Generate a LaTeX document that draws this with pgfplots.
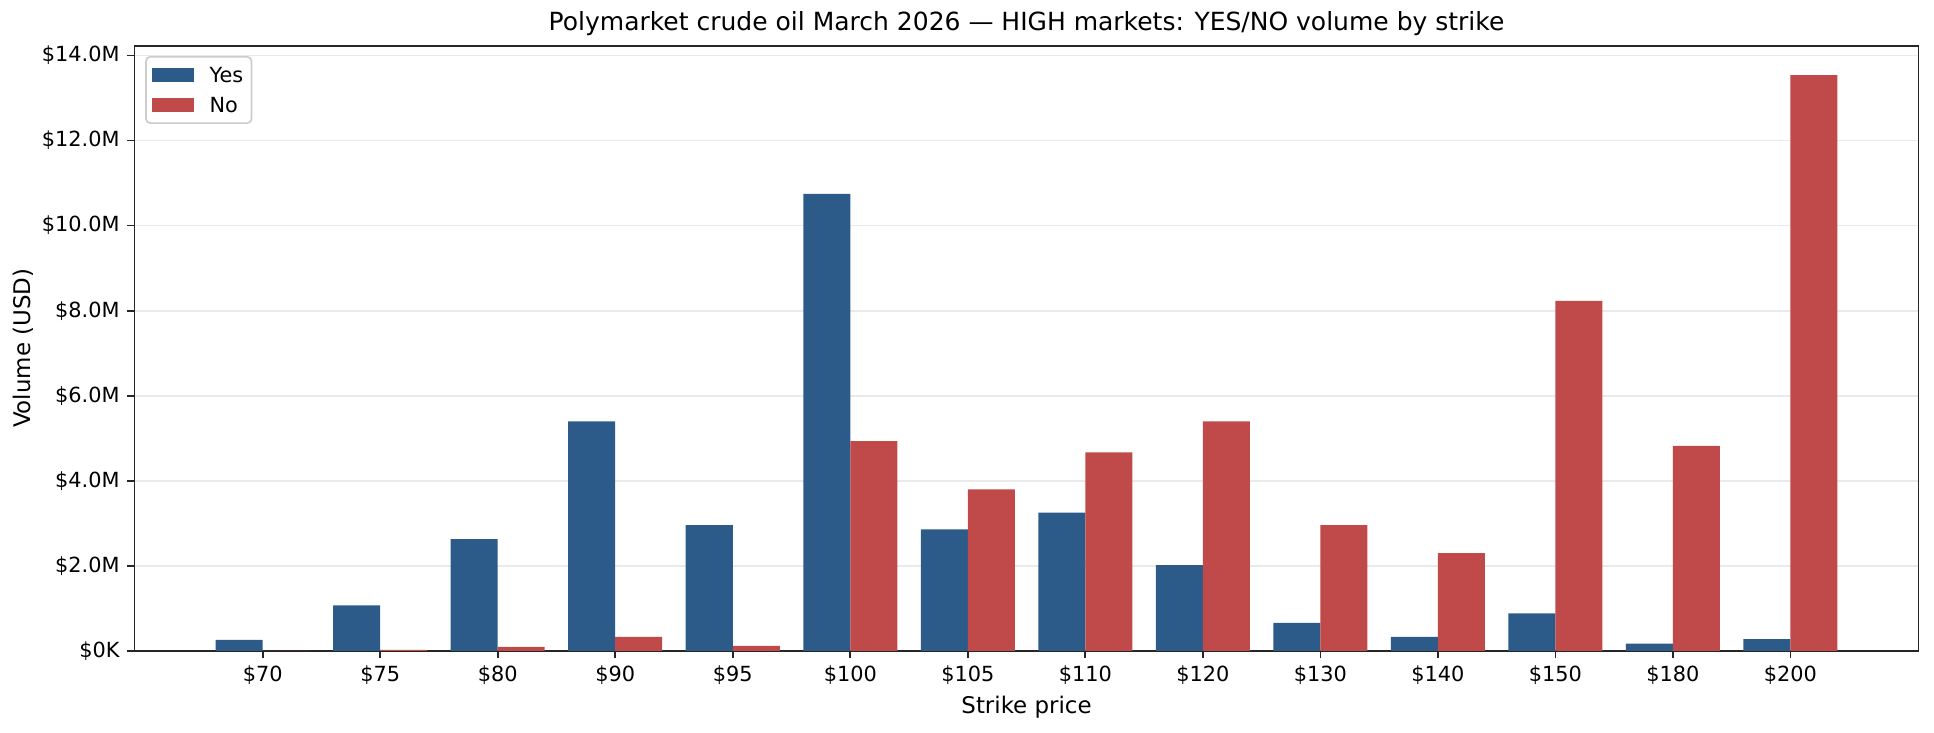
\documentclass[border=0pt]{standalone}
\usepackage{fontspec}
\setmainfont{DejaVu Sans}
\usepackage{pgfplots}
\pgfplotsset{compat=1.18}
\definecolor{yesblue}{RGB}{44,91,138}
\definecolor{nored}{RGB}{192,73,74}
\definecolor{axgray}{RGB}{38,38,38}
\definecolor{gridgray}{RGB}{234,234,234}
\begin{document}
\begin{tikzpicture}
\begin{axis}[
  scale only axis,
  width=856.3pt, height=290.5pt,
  xmin=-1.09, xmax=14.09,
  ymin=0, ymax=14.23,
  xtick={0,...,13},
  xticklabels={\$70,\$75,\$80,\$90,\$95,\$100,\$105,\$110,\$120,\$130,\$140,\$150,\$180,\$200},
  ytick={0,2,4,6,8,10,12,14},
  yticklabels={\$0K,\$2.0M,\$4.0M,\$6.0M,\$8.0M,\$10.0M,\$12.0M,\$14.0M},
  /pgf/number format/assume math mode=true,
  tick align=outside,
  tick pos=left,
  major tick length=3.5pt,
  every tick/.style={axgray, line width=0.8pt},
  axis line style={axgray, line width=0.8pt},
  ticklabel style={font=\fontsize{10}{12}\selectfont, text=black},
  yticklabel style={inner sep=0pt, xshift=-3.5pt},
  xticklabel style={inner sep=0pt, yshift=-3.5pt},
  ymajorgrids,
  grid style={gridgray, line width=0.8pt},
  every axis title/.style={at={(axis description cs:0.5,1)}, anchor=center, yshift=10.5pt, font=\fontsize{12}{14}\selectfont},
  title={Polymarket crude oil March 2026 — HIGH markets: YES/NO volume by strike},
  every axis x label/.style={at={(axis description cs:0.5,0)}, anchor=center, yshift=-26.9pt, font=\fontsize{11}{13}\selectfont},
  xlabel={Strike price},
  every axis y label/.style={at={(axis description cs:0,0.5)}, xshift=-53.5pt, rotate=90, anchor=center, font=\fontsize{11}{13}\selectfont},
  ylabel={Volume (USD)},
  ybar, bar width=0.4,
  legend style={at={(axis description cs:0,1)}, anchor=north west, xshift=5.1pt, yshift=-4.95pt,
    draw=black!20, line width=0.8pt, rounded corners=2pt, font=\fontsize{10}{12}\selectfont,
    inner xsep=3pt, inner ysep=3.9pt, row sep=5.4pt,
    nodes={inner sep=1pt, text height=7.3pt, text depth=0pt}},
  legend cell align=left,
  legend image code/.code={\fill[#1, sharp corners] (0pt,-3.35pt) rectangle (20.2pt,3.35pt); \path (26.5pt,0pt);},
]
\addplot[fill=yesblue, draw=none, bar shift=-0.2] coordinates {
(0,0.26) (1,1.07) (2,2.63) (3,5.40) (4,2.96) (5,10.745) (6,2.86)
(7,3.25) (8,2.02) (9,0.66) (10,0.33) (11,0.88) (12,0.17) (13,0.28)};
\addlegendentry{Yes}
\addplot[fill=nored, draw=none, bar shift=0.2] coordinates {
(0,0.0) (1,0.024) (2,0.095) (3,0.33) (4,0.12) (5,4.93) (6,3.80)
(7,4.67) (8,5.40) (9,2.96) (10,2.30) (11,8.23) (12,4.82) (13,13.54)};
\addlegendentry{No}
\end{axis}
\pgfresetboundingbox
\path ([shift={(-64.6pt,-39.36pt)}]current axis.south west) rectangle ([shift={(7.44pt,21.94pt)}]current axis.north east);
\end{tikzpicture}
\end{document}
